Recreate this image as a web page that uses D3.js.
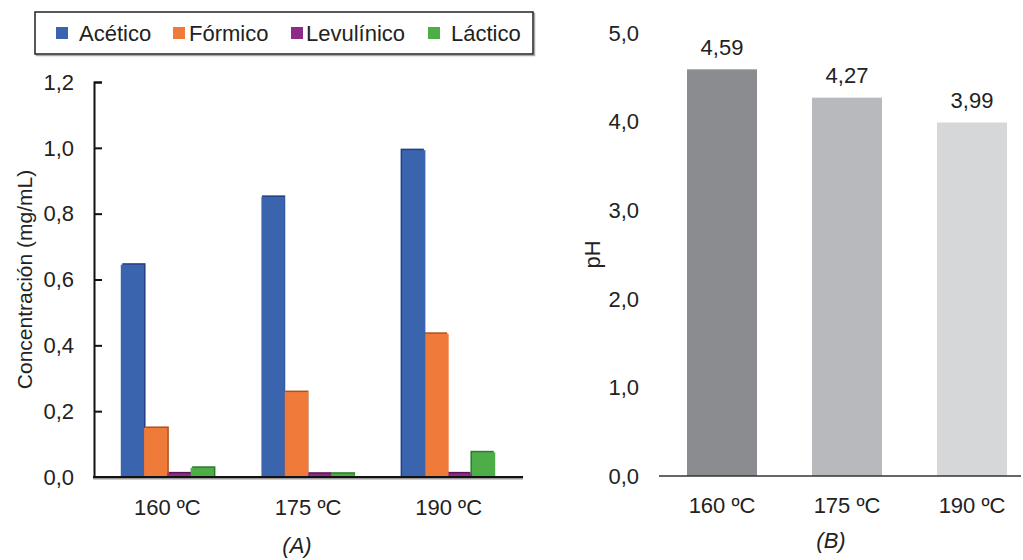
<!DOCTYPE html>
<html>
<head>
<meta charset="utf-8">
<script src="https://cdn.jsdelivr.net/npm/d3@7/dist/d3.min.js"></script>
<style>
  html, body { margin: 0; padding: 0; background: #ffffff; }
  svg { display: block; }
  text { font-family: "Liberation Sans", Arial, Helvetica, sans-serif; fill: #222222; }
</style>
</head>
<body>
<svg id="chart" width="1023" height="560"></svg>
<script>
// Temperatures of the hydrothermal treatment
const categories = ["160 ºC", "175 ºC", "190 ºC"];

// Panel A: organic acid concentration (mg/mL)
const acidNames = ["Acético", "Fórmico", "Levulínico", "Láctico"];
const acetico   = [0.645, 0.851, 0.993];
const formico   = [0.149, 0.258, 0.435];
const levulinico = [0.011, 0.010, 0.011];
const lactico   = [0.028, 0.010, 0.075];
const concTicks = [0, 0.2, 0.4, 0.6, 0.8, 1.0, 1.2];

// Panel B: pH of the liquors
const phValues = [4.59, 4.27, 3.99];
const phTicks = [0, 1, 2, 3, 4, 5];

const acidColors  = ["#3b64af", "#f07a3a", "#8e2a8a", "#4dae48"];
const acidShadows = ["#223f86", "#b0501c", "#571452", "#2c7a2a"];
const phColors = ["#8b8c90", "#b8b9bc", "#d6d7d9"];

const locale = d3.formatLocale({ decimal: ",", thousands: ".", grouping: [3], currency: ["", " €"] });
const fmt1 = locale.format(".1f");
const fmt2 = locale.format(".2f");

const svg = d3.select("#chart");
const FONT = 22;

// ---------- Panel A ----------
const acidRows = categories.map((c, i) => ({
  cat: c,
  values: [acetico[i], formico[i], levulinico[i], lactico[i]]
}));

const yA = d3.scaleLinear().domain([0, 1.2]).range([477, 82]);
const xA = d3.scaleBand().domain(categories).range([97, 519]).paddingInner(0.338).paddingOuter(0.169);
const xAInner = d3.scaleBand().domain(d3.range(acidNames.length)).range([0, xA.bandwidth()]);

const gA = svg.append("g");

// bars with a small offset shadow for the raised look
const groups = gA.selectAll("g.grp").data(acidRows).join("g")
  .attr("class", "grp")
  .attr("transform", d => `translate(${xA(d.cat)},0)`);

const shift = [1.5, 0.5, -1.5];
groups.each(function (d, gi) {
  const g = d3.select(this);
  const items = d.values.map((v, k) => ({ v, k }));
  g.selectAll("rect.shadow").data(items).join("rect")
    .attr("class", "shadow")
    .attr("x", e => xAInner(e.k) + shift[gi])
    .attr("y", e => yA(e.v) - 1.5)
    .attr("width", xAInner.bandwidth())
    .attr("height", e => yA(0) - yA(e.v) + 1.5)
    .attr("fill", e => acidShadows[e.k]);
  g.selectAll("rect.bar").data(items).join("rect")
    .attr("class", "bar")
    .attr("x", e => xAInner(e.k))
    .attr("y", e => yA(e.v))
    .attr("width", xAInner.bandwidth())
    .attr("height", e => yA(0) - yA(e.v))
    .attr("fill", e => acidColors[e.k]);
});

// y axis (ticks pointing into the plot)
const yAxisA = d3.axisRight(yA).tickValues(concTicks).tickSize(8).tickFormat("");
const yAx = gA.append("g").attr("transform", "translate(94,0)").call(yAxisA);
yAx.select(".domain").attr("stroke", "#111").attr("stroke-width", 2);
yAx.selectAll(".tick line").attr("stroke", "#111").attr("stroke-width", 2);

gA.selectAll("text.ytick").data(concTicks).join("text")
  .attr("class", "ytick")
  .attr("x", 74).attr("y", d => yA(d))
  .attr("dy", "0.35em")
  .attr("text-anchor", "end")
  .style("font-size", FONT + "px")
  .text(d => fmt1(d));

// x axis baseline
gA.append("line")
  .attr("x1", 93).attr("x2", 523).attr("y1", yA(0) + 1.5).attr("y2", yA(0) + 1.5)
  .attr("stroke", "#999").attr("stroke-width", 2);
gA.append("line")
  .attr("x1", 93).attr("x2", 523).attr("y1", yA(0)).attr("y2", yA(0))
  .attr("stroke", "#111").attr("stroke-width", 2);

gA.selectAll("text.xcat").data(categories).join("text")
  .attr("class", "xcat")
  .attr("x", d => xA(d) + xA.bandwidth() / 2)
  .attr("y", 507).attr("dy", "0.35em")
  .attr("text-anchor", "middle")
  .style("font-size", FONT + "px")
  .text(d => d);

gA.append("text")
  .attr("transform", `translate(25,${(yA(0) + yA(1.2)) / 2}) rotate(-90)`)
  .attr("dy", "0.35em")
  .attr("text-anchor", "middle")
  .style("font-size", "21px")
  .text("Concentración (mg/mL)");

gA.append("text")
  .attr("x", 297).attr("y", 545).attr("dy", "0.35em")
  .attr("text-anchor", "middle")
  .style("font-size", FONT + "px")
  .style("font-style", "italic")
  .text("(A)");

// legend
const legend = svg.append("g");
legend.append("rect")
  .attr("x", 36.5).attr("y", 13.5).attr("width", 498).attr("height", 42)
  .attr("fill", "none").attr("stroke", "#aaa").attr("stroke-width", 1.5);
legend.append("rect")
  .attr("x", 35).attr("y", 12).attr("width", 498).attr("height", 42)
  .attr("fill", "#fff").attr("stroke", "#222").attr("stroke-width", 1.5);
const legendSwatchX = [56, 173, 291, 428];
const legendTextX = [79, 189, 306, 451];
const li = legend.selectAll("g.item").data(acidNames).join("g").attr("class", "item");
li.append("rect")
  .attr("x", (d, i) => legendSwatchX[i]).attr("y", 27)
  .attr("width", 12).attr("height", 12)
  .attr("fill", (d, i) => acidColors[i]);
li.append("text")
  .attr("x", (d, i) => legendTextX[i]).attr("y", 33).attr("dy", "0.35em")
  .style("font-size", FONT + "px")
  .text(d => d);

// ---------- Panel B ----------
const gB = svg.append("g");
const yB = d3.scaleLinear().domain([0, 5]).range([476, 33]);
const xB = d3.scaleBand().domain(categories).range([659.5, 1034.5]).paddingInner(0.44).paddingOuter(0.22);

gB.selectAll("rect.ph").data(phValues).join("rect")
  .attr("class", "ph")
  .attr("x", (d, i) => xB(categories[i]))
  .attr("y", d => yB(d))
  .attr("width", xB.bandwidth())
  .attr("height", d => yB(0) - yB(d))
  .attr("fill", (d, i) => phColors[i]);

gB.selectAll("text.phlabel").data(phValues).join("text")
  .attr("class", "phlabel")
  .attr("x", (d, i) => xB(categories[i]) + xB.bandwidth() / 2)
  .attr("y", d => yB(d) - 22).attr("dy", "0.35em")
  .attr("text-anchor", "middle")
  .style("font-size", FONT + "px")
  .text(d => fmt2(d));

gB.append("line")
  .attr("x1", 659).attr("x2", 1021).attr("y1", yB(0)).attr("y2", yB(0))
  .attr("stroke", "#333").attr("stroke-width", 1.5);

gB.selectAll("text.ytick").data(phTicks).join("text")
  .attr("class", "ytick")
  .attr("x", 639).attr("y", d => yB(d)).attr("dy", "0.35em")
  .attr("text-anchor", "end")
  .style("font-size", FONT + "px")
  .text(d => fmt1(d));

gB.selectAll("text.xcat").data(categories).join("text")
  .attr("class", "xcat")
  .attr("x", d => xB(d) + xB.bandwidth() / 2)
  .attr("y", 505).attr("dy", "0.35em")
  .attr("text-anchor", "middle")
  .style("font-size", FONT + "px")
  .text(d => d);

gB.append("text")
  .attr("transform", `translate(592,${(yB(0) + yB(5)) / 2}) rotate(-90)`)
  .attr("dy", "0.35em")
  .attr("text-anchor", "middle")
  .style("font-size", FONT + "px")
  .text("pH");

gB.append("text")
  .attr("x", 831).attr("y", 540).attr("dy", "0.35em")
  .attr("text-anchor", "middle")
  .style("font-size", FONT + "px")
  .style("font-style", "italic")
  .text("(B)");
</script>
</body>
</html>
